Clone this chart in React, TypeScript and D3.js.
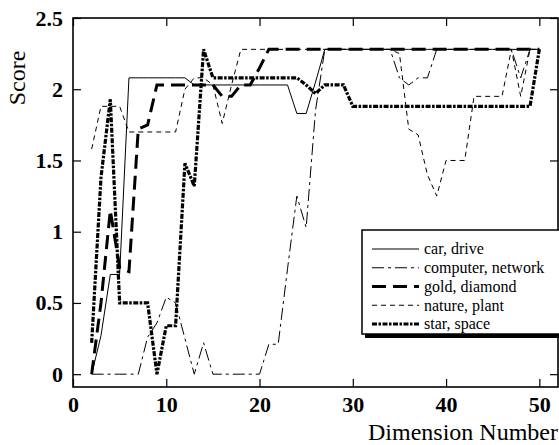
import React, { useEffect, useRef } from "react"
import * as d3 from "d3"

// dimension numbers 2..50
const dims = d3.range(2, 51)

const carDrive = [0, 0.27, 0.7, 0.7, 2.08, 2.08, 2.08, 2.08, 2.08, 2.08, 2.08,
  2.03, 2.03, 2.03, 2.03, 2.03, 2.03, 2.03, 2.03, 2.03, 2.03, 2.03,
  1.83, 1.83, 2.05,
  2.28, 2.28, 2.28, 2.28, 2.28, 2.28, 2.28, 2.28, 2.28, 2.28, 2.28, 2.28,
  2.28, 2.28, 2.28, 2.28, 2.28, 2.28, 2.28, 2.28, 2.28, 2.28, 2.28, 2.28]

const computerNetwork = [0, 0, 0, 0, 0, 0, 0.26, 0.36, 0.54, 0.5, 0.25, 0, 0.22, 0,
  0, 0, 0, 0, 0, 0.21, 0.21, 0.74, 1.25, 1.03, 1.85, 2.28,
  2.28, 2.28, 2.28, 2.28, 2.28, 2.28, 2.28, 2.08, 2.03, 2.08, 2.08, 2.28,
  2.28, 2.28, 2.28, 2.28, 2.28, 2.28, 2.28, 2.28, 2.08, 2.28, 2.28]

const goldDiamond = [0, 0.5, 1.15, 0.75, 0.72, 1.72, 1.75, 2.03, 2.03, 2.03, 2.03,
  2.03, 2.03, 2.03, 1.95, 1.95, 2.03, 2.03, 2.15,
  2.28, 2.28, 2.28, 2.28, 2.28, 2.28, 2.28, 2.28, 2.28, 2.28, 2.28, 2.28,
  2.28, 2.28, 2.28, 2.28, 2.28, 2.28, 2.28, 2.28, 2.28, 2.28, 2.28, 2.28,
  2.28, 2.28, 2.28, 2.28, 2.28, 2.28]

const naturePlant = [1.58, 1.88, 1.88, 1.88, 1.7, 1.7, 1.7, 1.7, 1.7, 1.7, 2.0,
  2.08, 2.08, 2.03, 1.76, 2.03, 2.28,
  2.28, 2.28, 2.28, 2.28, 2.28, 2.28, 2.28, 2.28, 2.28, 2.28, 2.28, 2.28,
  2.28, 2.28, 2.28, 2.28, 2.25, 1.72, 1.68, 1.4, 1.25, 1.5, 1.5, 1.5,
  1.95, 1.95, 1.95, 1.95, 2.28, 1.95, 2.28, 2.28]

const starSpace = [0.22, 1.38, 1.93, 0.5, 0.5, 0.5, 0.5, 0, 0.34, 0.34, 1.48, 1.32,
  2.28, 2.08, 2.08, 2.08, 2.08, 2.08, 2.08, 2.08, 2.08, 2.08, 2.08,
  2.03, 1.97, 2.03, 2.03, 2.03,
  1.88, 1.88, 1.88, 1.88, 1.88, 1.88, 1.88, 1.88, 1.88, 1.88, 1.88, 1.88,
  1.88, 1.88, 1.88, 1.88, 1.88, 1.88, 1.88, 1.88, 2.28]

const seriesNames = ["car, drive", "computer, network", "gold, diamond", "nature, plant", "star, space"]
const xTicks = [0, 10, 20, 30, 40, 50]
const yTicks = [0, 0.5, 1, 1.5, 2, 2.5]

const styles = [
  { w: 1, dash: null },
  { w: 1, dash: "12,4,3,4" },
  { w: 3, dash: "14,7" },
  { w: 1, dash: "5,4" },
  { w: 3.2, dash: "5,1.5,2.5,1.5" },
]

const serif = "Liberation Serif, Times New Roman, serif"

export default function App() {
  const ref = useRef<SVGSVGElement>(null)

  useEffect(() => {
    const W = 559, H = 445
    const m = { top: 18, right: 1, bottom: 58, left: 73 }
    const svg = d3.select(ref.current)
    svg.selectAll("*").remove()

    const x = d3.scaleLinear().domain([0, 52]).range([m.left, W - m.right])
    const y = d3.scaleLinear().domain([-0.09, 2.5]).range([H - m.bottom, m.top])

    const all = [carDrive, computerNetwork, goldDiamond, naturePlant, starSpace]
    const line = d3.line<number>()
      .x((d, i) => x(dims[i]))
      .y(d => y(d))

    all.forEach((vals, k) => {
      svg.append("path")
        .attr("d", line(vals))
        .attr("fill", "none")
        .attr("stroke", "black")
        .attr("stroke-width", styles[k].w)
        .attr("stroke-dasharray", styles[k].dash)
    })

    // axes, ticks pointing inward
    const tk = 8
    const bottom = svg.append("g").attr("transform", `translate(0,${H - m.bottom})`)
      .call(d3.axisBottom(x).tickValues(xTicks).tickSize(-tk).tickPadding(9).tickFormat(d3.format("d")))
    const top = svg.append("g").attr("transform", `translate(0,${m.top})`)
      .call(d3.axisTop(x).tickValues(xTicks).tickSize(-tk).tickFormat(() => ""))
    const left = svg.append("g").attr("transform", `translate(${m.left},0)`)
      .call(d3.axisLeft(y).tickValues(yTicks).tickSize(-tk).tickPadding(10).tickFormat(d => String(d)))
    const right = svg.append("g").attr("transform", `translate(${W - m.right},0)`)
      .call(d3.axisRight(y).tickValues(yTicks).tickSize(-tk).tickFormat(() => ""))

    ;[bottom, top, left, right].forEach(g => {
      g.attr("font-family", serif)
      g.select(".domain").remove()
      g.selectAll("line").attr("stroke", "black").attr("stroke-width", 1.2)
      g.selectAll("text").attr("font-size", 22)
        .attr("font-weight", "bold").attr("fill", "black")
    })

    svg.append("rect")
      .attr("x", m.left).attr("y", m.top)
      .attr("width", W - m.right - m.left).attr("height", H - m.bottom - m.top)
      .attr("fill", "none").attr("stroke", "black").attr("stroke-width", 1.6)

    svg.append("text")
      .attr("transform", `translate(25,78) rotate(-90)`)
      .attr("text-anchor", "middle")
      .attr("font-family", serif).attr("font-size", 24)
      .text("Score")

    svg.append("text")
      .attr("x", 558).attr("y", 440)
      .attr("text-anchor", "end")
      .attr("font-family", serif).attr("font-size", 24)
      .text("Dimension Number")

    // legend with drop shadow
    const lg = svg.append("g")
    lg.append("rect").attr("x", 365).attr("y", 233).attr("width", 220).attr("height", 105).attr("fill", "black")
    lg.append("rect").attr("x", 362).attr("y", 230).attr("width", 220).attr("height", 104)
      .attr("fill", "white").attr("stroke", "black").attr("stroke-width", 1.5)
    seriesNames.forEach((name, k) => {
      const ly = 249 + k * 18.75
      lg.append("line").attr("x1", 372).attr("x2", 419).attr("y1", ly).attr("y2", ly)
        .attr("stroke", "black").attr("stroke-width", styles[k].w)
        .attr("stroke-dasharray", styles[k].dash)
      lg.append("text").attr("x", 424).attr("y", ly).attr("dy", "0.33em")
        .attr("font-family", serif).attr("font-size", 16).text(name)
    })
  }, [])

  return (
    <svg ref={ref} width={559} height={445}
      style={{ position: "absolute", left: 0, top: 0, background: "white" }} />
  )
}
